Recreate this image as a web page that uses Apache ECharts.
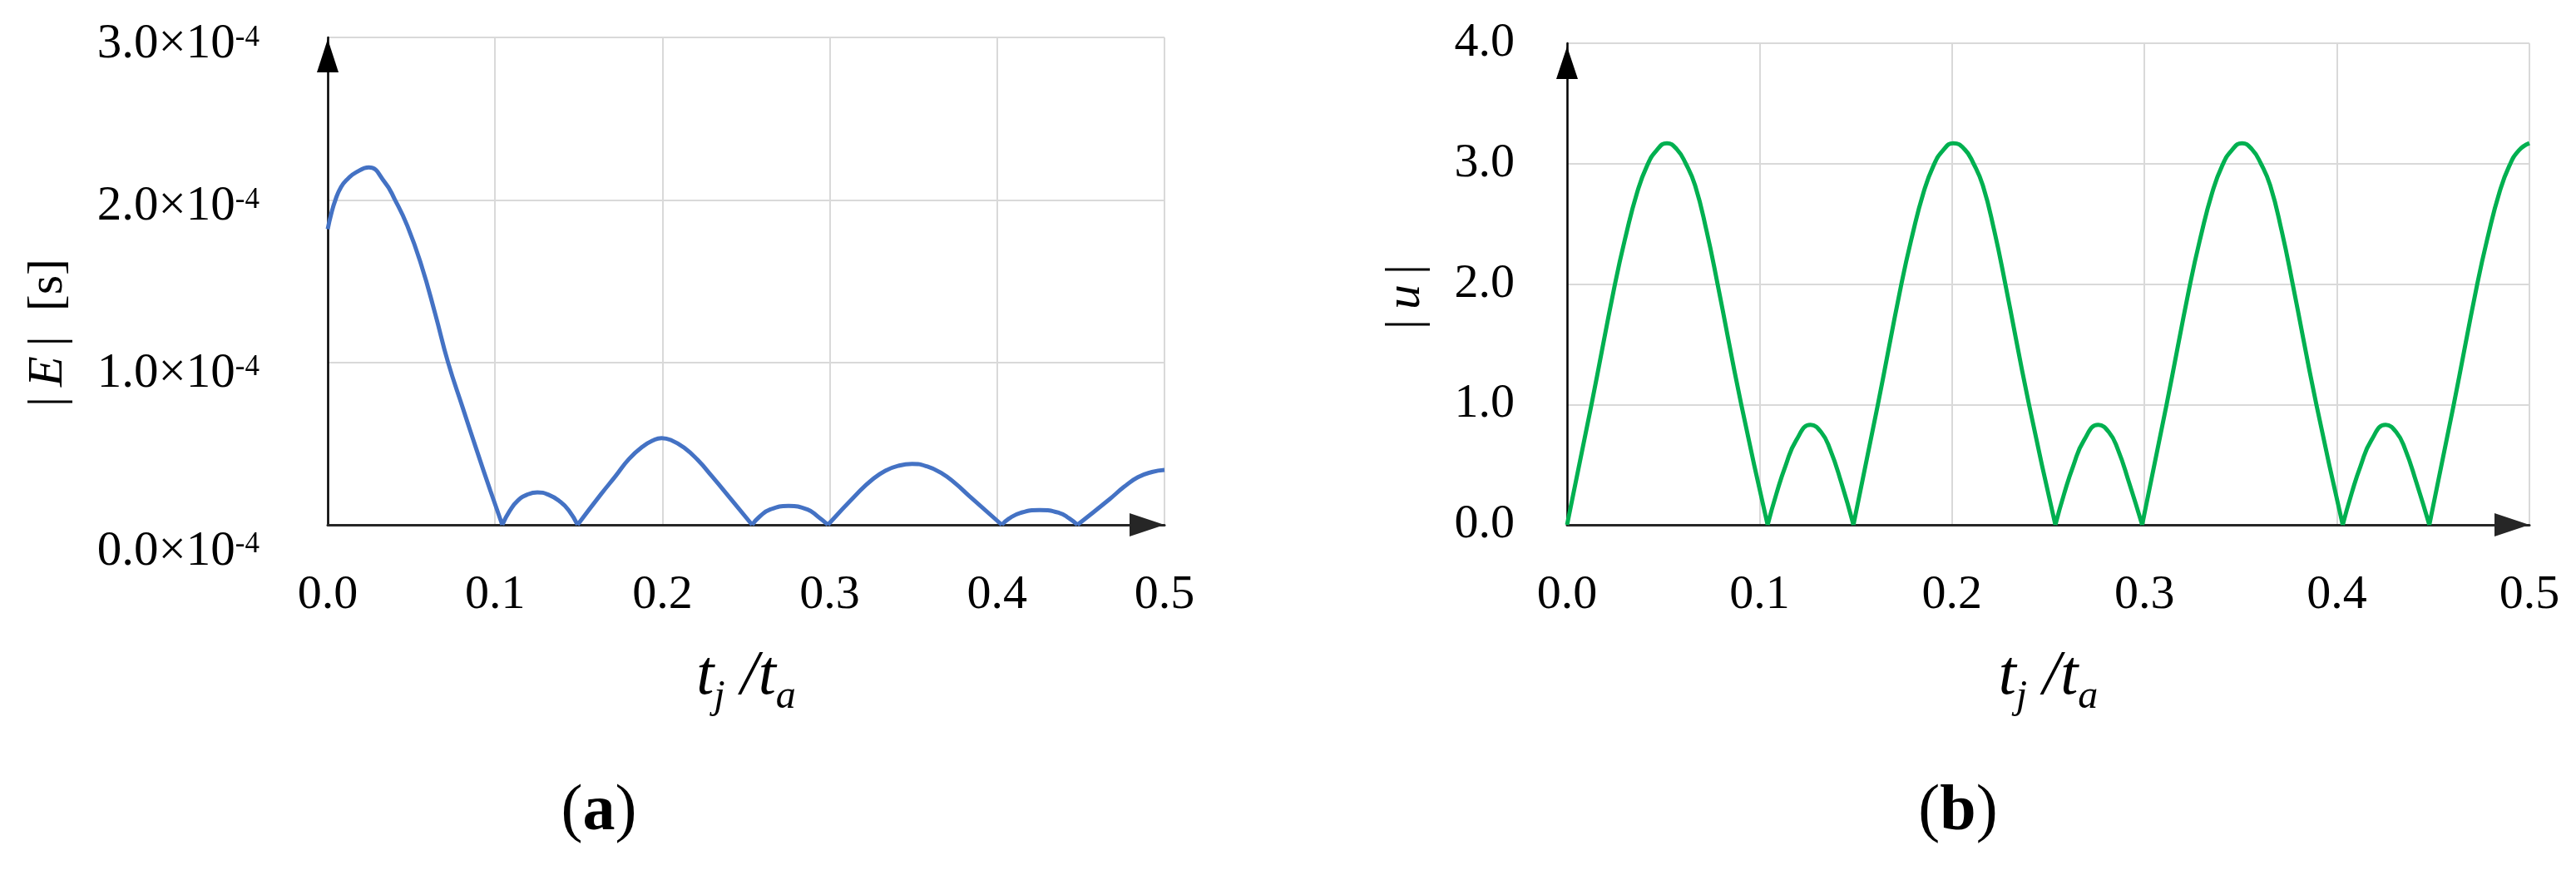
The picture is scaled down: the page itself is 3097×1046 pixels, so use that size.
<!DOCTYPE html>
<html>
<head>
<meta charset="utf-8">
<script src="https://cdn.jsdelivr.net/npm/echarts/dist/echarts.min.js"></script>
<style>
html,body{margin:0;padding:0;background:#fff;}
#c{width:3097px;height:1046px;}
</style>
</head>
<body>
<div id="c"></div>
<script>
// ---------- tick labels ----------
const tTickLabels = ['0.0', '0.1', '0.2', '0.3', '0.4', '0.5'];
const eTickLabels = ['0.0', '1.0', '2.0', '3.0'];          // × 10^-4 s
const uTickLabels = ['0.0', '1.0', '2.0', '3.0', '4.0'];

// ---------- (a) |E| [×10^-4 s] vs t_j/t_a  (null = break between lobes) ----------
const eT = [
  0, 0.002, 0.0046, 0.008, 0.012, 0.017, 0.0245, 0.034, 0.0402, 0.0476, 0.0559, 0.0642, 0.0719, 0.0807, 0.089, 0.0972, 0.1043,
  0.1043,
  0.1043, 0.109, 0.1137, 0.119, 0.1253, 0.132, 0.1386, 0.144, 0.1493,
  0.1493,
  0.1493, 0.1634, 0.172, 0.180, 0.188, 0.1945, 0.1995, 0.2055, 0.213, 0.221, 0.2295, 0.2424, 0.2536,
  0.2536,
  0.2536, 0.258, 0.2645, 0.2754, 0.2865, 0.293, 0.2989,
  0.2989,
  0.2989, 0.3165, 0.325, 0.3332, 0.3415, 0.3492, 0.358, 0.3668, 0.375, 0.3835, 0.4028,
  0.4028,
  0.4028, 0.407, 0.414, 0.4254, 0.437, 0.443, 0.448,
  0.448,
  0.448, 0.4673, 0.476, 0.4841, 0.4925, 0.5
];
const eVal = [
  1.82, 1.91, 2.00, 2.08, 2.13, 2.17, 2.20, 2.11, 2.00, 1.84, 1.60, 1.30, 1.00, 0.72, 0.46, 0.21, 0,
  null,
  0, 0.09, 0.15, 0.185, 0.20, 0.185, 0.145, 0.09, 0,
  null,
  0, 0.19, 0.30, 0.405, 0.48, 0.52, 0.534, 0.52, 0.475, 0.40, 0.30, 0.14, 0,
  null,
  0, 0.05, 0.095, 0.116, 0.095, 0.05, 0,
  null,
  0, 0.193, 0.275, 0.333, 0.365, 0.375, 0.36, 0.318, 0.255, 0.176, 0,
  null,
  0, 0.038, 0.074, 0.091, 0.074, 0.04, 0,
  null,
  0, 0.159, 0.235, 0.293, 0.325, 0.338
];

// ---------- (b) |u| vs t_j/t_a  (null = break between lobes) ----------
const uT = [
  0, 0.0127, 0.0249, 0.0305, 0.0364, 0.0415, 0.0465, 0.0519, 0.057, 0.0617, 0.0665, 0.0725, 0.0782, 0.0905, 0.1042,
  0.1042,
  0.1042, 0.1088, 0.1135, 0.119, 0.1265, 0.132, 0.1366, 0.1425, 0.1488,
  0.1488,
  0.1488, 0.1615, 0.1737, 0.1793, 0.1852, 0.1903, 0.1953, 0.2007, 0.2065, 0.2112, 0.216, 0.222, 0.2277, 0.24, 0.2537,
  0.2537,
  0.2537, 0.2583, 0.263, 0.2685, 0.276, 0.2815, 0.2861, 0.292, 0.2988,
  0.2988,
  0.2988, 0.3115, 0.3237, 0.3293, 0.3352, 0.3403, 0.3453, 0.3507, 0.3558, 0.3605, 0.3653, 0.3713, 0.377, 0.3893, 0.403,
  0.403,
  0.403, 0.4076, 0.4123, 0.4178, 0.4253, 0.4308, 0.4354, 0.4413, 0.448,
  0.448,
  0.448, 0.4607, 0.4729, 0.4785, 0.4844, 0.4895, 0.4945, 0.5
];
const uVal = [
  0, 1.0, 2.0, 2.40, 2.76, 2.98, 3.11, 3.17, 3.12, 3.0, 2.82, 2.44, 2.0, 1.0, 0,
  null,
  0, 0.26, 0.49, 0.70, 0.83, 0.77, 0.63, 0.35, 0,
  null,
  0, 1.0, 2.0, 2.40, 2.76, 2.98, 3.11, 3.17, 3.12, 3.0, 2.82, 2.44, 2.0, 1.0, 0,
  null,
  0, 0.26, 0.49, 0.70, 0.83, 0.77, 0.63, 0.35, 0,
  null,
  0, 1.0, 2.0, 2.40, 2.76, 2.98, 3.11, 3.17, 3.12, 3.0, 2.82, 2.44, 2.0, 1.0, 0,
  null,
  0, 0.26, 0.49, 0.70, 0.83, 0.77, 0.63, 0.35, 0,
  null,
  0, 1.0, 2.0, 2.40, 2.76, 2.98, 3.11, 3.17
];

const eData = eT.map((t, i) => [t, eVal[i]]);
const uData = uT.map((t, i) => [t, uVal[i]]);

// ---------- styling ----------
const FONT = '"Liberation Serif", "Times New Roman", serif';
const GRID_COLOR = '#d9d9d9';

function xAxisCfg(gridIndex) {
  return {
    type: 'value', gridIndex: gridIndex, min: 0, max: 0.5, interval: 0.1,
    name: '{t|t}{s|j}{t| /}{t|t}{s|a}',
    nameLocation: 'middle', nameGap: 145,
    nameTextStyle: {
      rich: {
        t: { fontFamily: FONT, fontStyle: 'italic', fontSize: 76, lineHeight: 76, verticalAlign: 'top', color: '#000' },
        s: { fontFamily: FONT, fontStyle: 'italic', fontSize: 48, lineHeight: 48, verticalAlign: 'top', padding: [38, 0, 0, 0], color: '#000' }
      }
    },
    axisLine: {
      show: true, onZero: false,
      lineStyle: { color: '#262626', width: 3 },
      symbol: ['none', 'triangle'], symbolSize: [28, 42], symbolOffset: [0, -21]
    },
    axisTick: { show: false },
    axisLabel: {
      fontFamily: FONT, fontSize: 58, color: '#000', margin: 56,
      formatter: v => tTickLabels[Math.round(v * 10)]
    },
    splitLine: { show: true, lineStyle: { color: GRID_COLOR, width: 2 } }
  };
}

const eLabelGap = { 0: 64, 1: 28, 2: 16, 3: 17 };

const option = {
  backgroundColor: '#ffffff',
  animation: false,
  grid: [
    { left: 394, top: 45, width: 1006, height: 586 },
    { left: 1884, top: 52, width: 1157, height: 579 }
  ],
  xAxis: [xAxisCfg(0), xAxisCfg(1)],
  yAxis: [
    {
      type: 'value', gridIndex: 0, min: 0, max: 3, interval: 1,
      name: '|\u2009{i|E}\u2009|\u2002[s]',
      nameLocation: 'middle', nameGap: 306,
      nameTextStyle: {
        fontFamily: FONT, fontSize: 60, color: '#000', padding: [0, 124, 0, 0],
        rich: { i: { fontFamily: FONT, fontStyle: 'italic', fontSize: 60, color: '#000' } }
      },
      axisLine: {
        show: true, onZero: false,
        lineStyle: { color: '#000', width: 2.5 },
        symbol: ['none', 'triangle'], symbolSize: [26, 40], symbolOffset: [0, -22]
      },
      axisTick: { show: false },
      axisLabel: {
        margin: 82,
        formatter: v => {
          const k = Math.round(v);
          return '{g' + k + '| }\n{n|' + eTickLabels[k] + '×10}{p|-4}';
        },
        rich: {
          g0: { fontSize: 1, lineHeight: eLabelGap[0], height: eLabelGap[0] },
          g1: { fontSize: 1, lineHeight: eLabelGap[1], height: eLabelGap[1] },
          g2: { fontSize: 1, lineHeight: eLabelGap[2], height: eLabelGap[2] },
          g3: { fontSize: 1, lineHeight: eLabelGap[3], height: eLabelGap[3] },
          n: { fontFamily: FONT, fontSize: 59, lineHeight: 59, verticalAlign: 'top', color: '#000' },
          p: { fontFamily: FONT, fontSize: 35, lineHeight: 35, verticalAlign: 'top', padding: [4, 0, 0, 0], color: '#000' }
        }
      },
      splitLine: { show: true, lineStyle: { color: GRID_COLOR, width: 2 } }
    },
    {
      type: 'value', gridIndex: 1, min: 0, max: 4, interval: 1,
      name: '|\u2009{i|u}\u2009|',
      nameLocation: 'middle', nameGap: 164,
      nameTextStyle: {
        fontFamily: FONT, fontSize: 60, color: '#000', padding: [0, 31, 0, 0],
        rich: { i: { fontFamily: FONT, fontStyle: 'italic', fontSize: 60, color: '#000' } }
      },
      axisLine: {
        show: true, onZero: false,
        lineStyle: { color: '#000', width: 2.5 },
        symbol: ['none', 'triangle'], symbolSize: [26, 39], symbolOffset: [0, -23.5]
      },
      axisTick: { show: false },
      axisLabel: {
        fontFamily: FONT, fontSize: 58, color: '#000', margin: 63,
        formatter: v => uTickLabels[Math.round(v)]
      },
      splitLine: { show: true, lineStyle: { color: GRID_COLOR, width: 2 } }
    }
  ],
  series: [
    {
      type: 'line', xAxisIndex: 0, yAxisIndex: 0, data: eData,
      showSymbol: false, symbol: 'none', smooth: 0.5, connectNulls: false,
      lineStyle: { color: '#4472C4', width: 5 }, z: 3
    },
    {
      type: 'line', xAxisIndex: 1, yAxisIndex: 1, data: uData,
      showSymbol: false, symbol: 'none', smooth: 0.5, connectNulls: false,
      lineStyle: { color: '#00B050', width: 5 }, z: 3
    }
  ],
  graphic: [
    {
      type: 'text', x: 720, y: 938,
      style: {
        text: '({b|a})', fontFamily: FONT, fontSize: 78, fill: '#000',
        align: 'center', verticalAlign: 'top',
        rich: { b: { fontFamily: FONT, fontSize: 78, fontWeight: 'bold', fill: '#000' } }
      }
    },
    {
      type: 'text', x: 2354, y: 938,
      style: {
        text: '({b|b})', fontFamily: FONT, fontSize: 78, fill: '#000',
        align: 'center', verticalAlign: 'top',
        rich: { b: { fontFamily: FONT, fontSize: 78, fontWeight: 'bold', fill: '#000' } }
      }
    }
  ]
};

const chart = echarts.init(document.getElementById('c'), null, { renderer: 'canvas' });
chart.setOption(option);
</script>
</body>
</html>
